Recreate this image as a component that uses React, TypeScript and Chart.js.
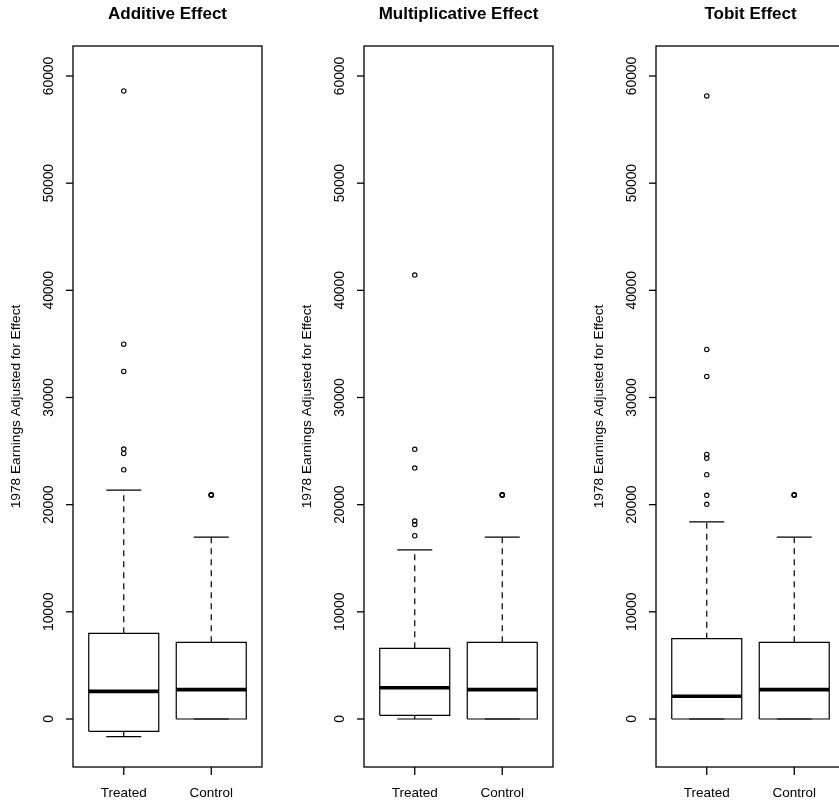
import React, { useEffect, useRef } from "react";
import { Chart, registerables } from "chart.js";

Chart.register(...registerables);

// ---- data ----
const groups = ["Treated", "Control"];
const panelTitles = ["Additive Effect", "Multiplicative Effect", "Tobit Effect"];
const yAxisLabel = "1978 Earnings Adjusted for Effect";
const yTickValues = [0, 10000, 20000, 30000, 40000, 50000, 60000];
const yMin = -4480;
const yMax = 62800;

// [lower whisker, Q1, median, Q3, upper whisker]
const additiveTreated = [-1650, -1150, 2580, 7990, 21360];
const additiveControl = [0, 0, 2740, 7150, 16980];
const additiveTreatedOutliers = [58600, 34980, 32430, 25190, 24780, 23260];
const additiveControlOutliers = [20880, 20900, 20920];

const multiplicativeTreated = [0, 340, 2920, 6590, 15790];
const multiplicativeControl = [0, 0, 2740, 7150, 16980];
const multiplicativeTreatedOutliers = [41420, 25160, 23410, 18470, 18160, 17100];
const multiplicativeControlOutliers = [20880, 20900, 20920];

const tobitTreated = [0, 0, 2120, 7490, 18400];
const tobitControl = [0, 0, 2740, 7150, 16980];
const tobitTreatedOutliers = [58140, 34490, 31970, 24690, 24320, 22790, 20870, 20030];
const tobitControlOutliers = [20880, 20900, 20920];

const panels = [
  { title: panelTitles[0], stats: [additiveTreated, additiveControl], outliers: [additiveTreatedOutliers, additiveControlOutliers] },
  { title: panelTitles[1], stats: [multiplicativeTreated, multiplicativeControl], outliers: [multiplicativeTreatedOutliers, multiplicativeControlOutliers] },
  { title: panelTitles[2], stats: [tobitTreated, tobitControl], outliers: [tobitTreatedOutliers, tobitControlOutliers] },
];

const FONT = "'Liberation Sans', Arial, Helvetica, sans-serif";
const BOX_HALF = 0.4;
const CAP_HALF = 0.2;

function buildDatasets(stats: number[][], outliers: number[][]) {
  const ds: any[] = [];
  const line = (pts: { x: number; y: number }[], width: number, dash: number[] = []) => ({
    type: "scatter",
    data: pts,
    showLine: true,
    borderColor: "#000",
    borderWidth: width,
    borderDash: dash,
    pointRadius: 0,
    pointHoverRadius: 0,
    fill: false,
    tension: 0,
    borderCapStyle: "butt",
  });
  stats.forEach((s, i) => {
    const x = i + 1;
    const [lw, q1, med, q3, uw] = s;
    // median
    ds.push(line([{ x: x - BOX_HALF, y: med }, { x: x + BOX_HALF, y: med }], 3.6));
    // box
    ds.push(
      line(
        [
          { x: x - BOX_HALF, y: q1 },
          { x: x + BOX_HALF, y: q1 },
          { x: x + BOX_HALF, y: q3 },
          { x: x - BOX_HALF, y: q3 },
          { x: x - BOX_HALF, y: q1 },
        ],
        1.2
      )
    );
    // whiskers
    ds.push(line([{ x, y: q3 }, { x, y: uw }], 1.2, [6, 5]));
    if (q1 !== lw) ds.push(line([{ x, y: q1 }, { x, y: lw }], 1.2, [6, 5]));
    // caps
    ds.push(line([{ x: x - CAP_HALF, y: uw }, { x: x + CAP_HALF, y: uw }], 1.2));
    ds.push(line([{ x: x - CAP_HALF, y: lw }, { x: x + CAP_HALF, y: lw }], 1.2));
    // outliers
    ds.push({
      type: "scatter",
      data: outliers[i].map((v) => ({ x, y: v })),
      pointStyle: "circle",
      pointRadius: 2.2,
      pointHoverRadius: 2.2,
      pointBorderWidth: 1.1,
      pointBorderColor: "#000",
      pointBackgroundColor: "rgba(0,0,0,0)",
      showLine: false,
    });
  });
  return ds;
}

const rAxesPlugin = {
  id: "rAxes",
  afterDraw(chart: any, _args: any, opts: any) {
    const ctx = chart.ctx as CanvasRenderingContext2D;
    const { left, right, top, bottom } = chart.chartArea;
    const xs = chart.scales.x;
    const ys = chart.scales.y;
    ctx.save();
    ctx.strokeStyle = "#000";
    ctx.fillStyle = "#000";
    ctx.lineWidth = 1.3;
    // frame
    ctx.strokeRect(left, top, right - left, bottom - top);
    // y ticks
    ctx.font = `13.8px ${FONT}`;
    yTickValues.forEach((v) => {
      const py = ys.getPixelForValue(v);
      ctx.beginPath();
      ctx.moveTo(left - 7, py);
      ctx.lineTo(left, py);
      ctx.stroke();
      ctx.save();
      ctx.translate(left - 20, py);
      ctx.rotate(-Math.PI / 2);
      ctx.textAlign = "center";
      ctx.textBaseline = "alphabetic";
      ctx.fillText(String(v), 0, 0);
      ctx.restore();
    });
    // x ticks
    ctx.font = `13.5px ${FONT}`;
    groups.forEach((g, i) => {
      const px = xs.getPixelForValue(i + 1);
      ctx.beginPath();
      ctx.moveTo(px, bottom);
      ctx.lineTo(px, bottom + 8);
      ctx.stroke();
      ctx.textAlign = "center";
      ctx.textBaseline = "alphabetic";
      ctx.fillText(g, px, bottom + 30);
    });
    // y axis title
    ctx.save();
    ctx.translate(left - 53, (top + bottom) / 2);
    ctx.rotate(-Math.PI / 2);
    ctx.textAlign = "center";
    ctx.textBaseline = "alphabetic";
    ctx.font = `13.7px ${FONT}`;
    ctx.fillText(yAxisLabel, 0, 0);
    ctx.restore();
    // main title
    ctx.font = `bold 17px ${FONT}`;
    ctx.textAlign = "center";
    ctx.textBaseline = "alphabetic";
    ctx.fillText(opts.title || "", (left + right) / 2, 19);
    ctx.restore();
  },
};

function Panel({ title, stats, outliers, left }: any) {
  const ref = useRef<HTMLCanvasElement>(null);
  useEffect(() => {
    if (!ref.current) return;
    const chart = new Chart(ref.current, {
      type: "scatter",
      data: { datasets: buildDatasets(stats, outliers) },
      options: {
        animation: false,
        responsive: false,
        devicePixelRatio: 1,
        layout: { padding: { left: 73, right: 30, top: 46, bottom: 38 } },
        scales: {
          x: { type: "linear", min: 0.42, max: 2.58, display: false },
          y: { type: "linear", min: yMin, max: yMax, display: false },
        },
        plugins: {
          legend: { display: false },
          tooltip: { enabled: false },
          rAxes: { title },
        } as any,
        events: [],
      },
      plugins: [rAxesPlugin],
    } as any);
    return () => chart.destroy();
  }, [title, stats, outliers]);
  return (
    <canvas
      ref={ref}
      width={292}
      height={805}
      style={{ position: "absolute", left, top: 0, width: 292, height: 805 }}
    />
  );
}

export default function App() {
  const lefts = [0, 291, 583];
  return (
    <div
      style={{
        position: "fixed",
        left: 0,
        top: 0,
        width: 839,
        height: 805,
        overflow: "hidden",
        background: "#fff",
      }}
    >
      {panels.map((p, i) => (
        <Panel key={i} title={p.title} stats={p.stats} outliers={p.outliers} left={lefts[i]} />
      ))}
    </div>
  );
}
